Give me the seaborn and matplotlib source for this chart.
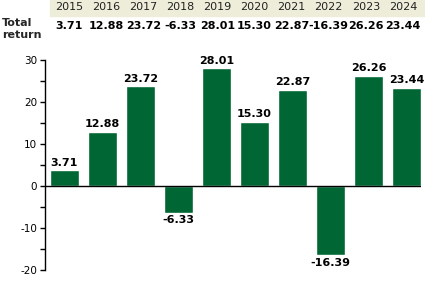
import matplotlib
matplotlib.use("Agg")
import matplotlib.pyplot as plt
import seaborn as sns
import pandas as pd
from matplotlib.ticker import MultipleLocator

years = ["2015", "2016", "2017", "2018", "2019", "2020", "2021", "2022", "2023", "2024"]
returns = [3.71, 12.88, 23.72, -6.33, 28.01, 15.30, 22.87, -16.39, 26.26, 23.44]
row_label = "Total\nreturn"

sns.set_style("white")
plt.rcParams['font.family'] = ['DejaVu Sans']
plt.rcParams['axes.unicode_minus'] = False

W, H = 425, 288
fig = plt.figure(figsize=(W / 100, H / 100), dpi=100)
ax = fig.add_axes([45 / W, (H - 270) / H, (421 - 45) / W, (270 - 60) / H])

df = pd.DataFrame({"year": years, "ret": returns})
sns.barplot(data=df, x="year", y="ret", color="#006633", saturation=1,
            width=0.76, ax=ax)

for c in ax.containers:
    ax.bar_label(c, labels=[f"{v:.2f}" for v in returns], padding=2,
                 fontsize=8, fontweight="bold", color="black")

ax.set_xlim(-0.51, 9.38)
ax.set_ylim(-20, 30)
ax.yaxis.set_major_locator(MultipleLocator(10))
ax.yaxis.set_minor_locator(MultipleLocator(5))
ax.tick_params(axis="y", which="both", left=True, length=3.5, width=1,
               labelsize=7.5, pad=2, color="black", labelcolor="black")
ax.tick_params(axis="x", bottom=False, labelbottom=False)
ax.set_xlabel("")
ax.set_ylabel("")
for s in ["top", "right", "bottom"]:
    ax.spines[s].set_visible(False)
ax.spines["left"].set_color("black")
ax.spines["left"].set_linewidth(1)
ax.axhline(0, color="black", lw=1)
ax.set_facecolor("white")

# header table
band = plt.Rectangle((50 / W, (H - 16) / H), (W - 50) / W, 16 / H,
                     transform=fig.transFigure, color="#EDEDDA", zorder=0)
fig.patches.append(band)
for i, (y, v) in enumerate(zip(years, returns)):
    x = (69 + 37.1 * i) / W
    fig.text(x, (H - 7.5) / H, y, ha="center", va="center", fontsize=8,
             color="#222222")
    fig.text(x, (H - 26) / H, f"{v:.2f}", ha="center", va="center",
             fontsize=8, fontweight="bold", color="black")
fig.text(2 / W, (H - 29) / H, row_label, ha="left", va="center", fontsize=8,
         fontweight="bold", linespacing=1.25)

fig.savefig("out.png", dpi=100, facecolor="white")
